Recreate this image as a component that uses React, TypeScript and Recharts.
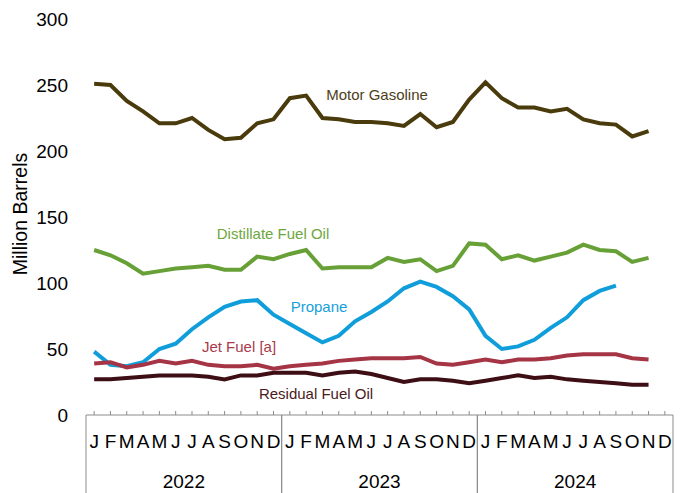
import { LineChart, Line, XAxis, YAxis } from "recharts";

const YEARS = ["2022", "2023", "2024"];
const MONTH_LETTERS = ["J", "F", "M", "A", "M", "J", "J", "A", "S", "O", "N", "D"];
const Y_TICKS = [0, 50, 100, 150, 200, 250, 300];

// monthly stocks, million barrels (Jan 2022 .. Nov 2024)
const motorGasoline = [
  251, 250, 238, 230, 221, 221, 225, 216, 209, 210, 221, 224,
  240, 242, 225, 224, 222, 222, 221, 219, 228, 218, 222, 239,
  252, 240, 233, 233, 230, 232, 224, 221, 220, 211, 215,
];
const distillateFuelOil = [
  125, 121, 115, 107, 109, 111, 112, 113, 110, 110, 120, 118,
  122, 125, 111, 112, 112, 112, 119, 116, 118, 109, 113, 130,
  129, 118, 121, 117, 120, 123, 129, 125, 124, 116, 119,
];
const propane = [
  48, 38, 37, 40, 50, 54, 65, 74, 82, 86, 87, 76,
  69, 62, 55, 60, 71, 78, 86, 96, 101, 97, 90, 80,
  60, 50, 52, 57, 66, 74, 87, 94, 98,
];
const jetFuel = [
  39, 40, 36, 38, 41, 39, 41, 38, 37, 37, 38, 35,
  37, 38, 39, 41, 42, 43, 43, 43, 44, 39, 38, 40,
  42, 40, 42, 42, 43, 45, 46, 46, 46, 43, 42,
];
const residualFuelOil = [
  27, 27, 28, 29, 30, 30, 30, 29, 27, 30, 30, 32,
  32, 32, 30, 32, 33, 31, 28, 25, 27, 27, 26, 24,
  26, 28, 30, 28, 29, 27, 26, 25, 24, 23, 23,
];

const MONTHS = YEARS.flatMap((y) => MONTH_LETTERS.map((_, m) => `${y}-${m + 1}`));

const data = MONTHS.map((month, i) => ({
  month,
  gasoline: motorGasoline[i] ?? null,
  distillate: distillateFuelOil[i] ?? null,
  propane: propane[i] ?? null,
  jet: jetFuel[i] ?? null,
  residual: residualFuelOil[i] ?? null,
}));

const W = 682;
const H = 493;
const LEFT = 86;
const RIGHT = 9;
const BAND = (W - LEFT - RIGHT) / MONTHS.length;
const FONT = "'Liberation Sans', Arial, sans-serif";
const AXIS = "#8c8c8c";

function MonthTick(props: any) {
  const { x, y, payload } = props;
  const idx = MONTHS.indexOf(payload.value);
  const m = idx % 12;
  return (
    <g>
      <line x1={x} x2={x} y1={y} y2={y - 4} stroke={AXIS} />
      <text x={x} y={y + 33} textAnchor="middle" fontSize={19} fill="#000" fontFamily={FONT}>
        {MONTH_LETTERS[m]}
      </text>
      {m === 0 && (
        <line x1={x - BAND / 2} x2={x - BAND / 2} y1={y} y2={y + 80} stroke={AXIS} />
      )}
      {m === 11 && (
        <line x1={x + BAND / 2} x2={x + BAND / 2} y1={y} y2={y + 80} stroke={AXIS} />
      )}
      {m === 5 && (
        <text x={x + BAND / 2} y={y + 73} textAnchor="middle" fontSize={19} fill="#000" fontFamily={FONT}>
          {YEARS[Math.floor(idx / 12)]}
        </text>
      )}
    </g>
  );
}

const SERIES = [
  { key: "gasoline", color: "#4a3b0c" },
  { key: "distillate", color: "#67a036" },
  { key: "propane", color: "#109edb" },
  { key: "jet", color: "#a53445" },
  { key: "residual", color: "#3d0e14" },
];

export default function App() {
  return (
    <div style={{ position: "absolute", left: 0, top: 0, width: W, height: H, background: "#fff" }}>
      <LineChart width={W} height={H} data={data} margin={{ top: 19, right: RIGHT, bottom: 0, left: 0 }}>
        <XAxis
          dataKey="month"
          interval={0}
          height={78}
          padding={{ left: BAND / 2, right: BAND / 2 }}
          tickLine={false}
          tickSize={0}
          tickMargin={0}
          axisLine={{ stroke: AXIS }}
          tick={<MonthTick />}
        />
        <YAxis
          width={LEFT}
          domain={[0, 300]}
          ticks={Y_TICKS}
          axisLine={false}
          tickLine={false}
          tickSize={0}
          tickMargin={18}
          tick={{ fontSize: 19, fill: "#000", fontFamily: FONT }}
        />
        {SERIES.map((s) => (
          <Line
            key={s.key}
            dataKey={s.key}
            type="linear"
            stroke={s.color}
            strokeWidth={4}
            dot={false}
            activeDot={false}
            connectNulls={false}
            isAnimationActive={false}
          />
        ))}
      </LineChart>
      <svg
        width={W}
        height={H}
        style={{ position: "absolute", left: 0, top: 0, pointerEvents: "none" }}
        fontFamily={FONT}
      >
        <text x={20} y={214} transform="rotate(-90 20 214)" textAnchor="middle" dominantBaseline="central" fontSize={19.5} fill="#000">
          Million Barrels
        </text>
        <text x={377} y={100} textAnchor="middle" fontSize={15} fill="#4d4020">Motor Gasoline</text>
        <text x={273} y={239} textAnchor="middle" fontSize={15} fill="#6ea640">Distillate Fuel Oil</text>
        <text x={319} y={312} textAnchor="middle" fontSize={15} fill="#16a0dc">Propane</text>
        <text x={239} y={352} textAnchor="middle" fontSize={15} fill="#a83a4a">Jet Fuel [a]</text>
        <text x={316} y={399} textAnchor="middle" fontSize={15} fill="#4a1a20">Residual Fuel Oil</text>
      </svg>
    </div>
  );
}
